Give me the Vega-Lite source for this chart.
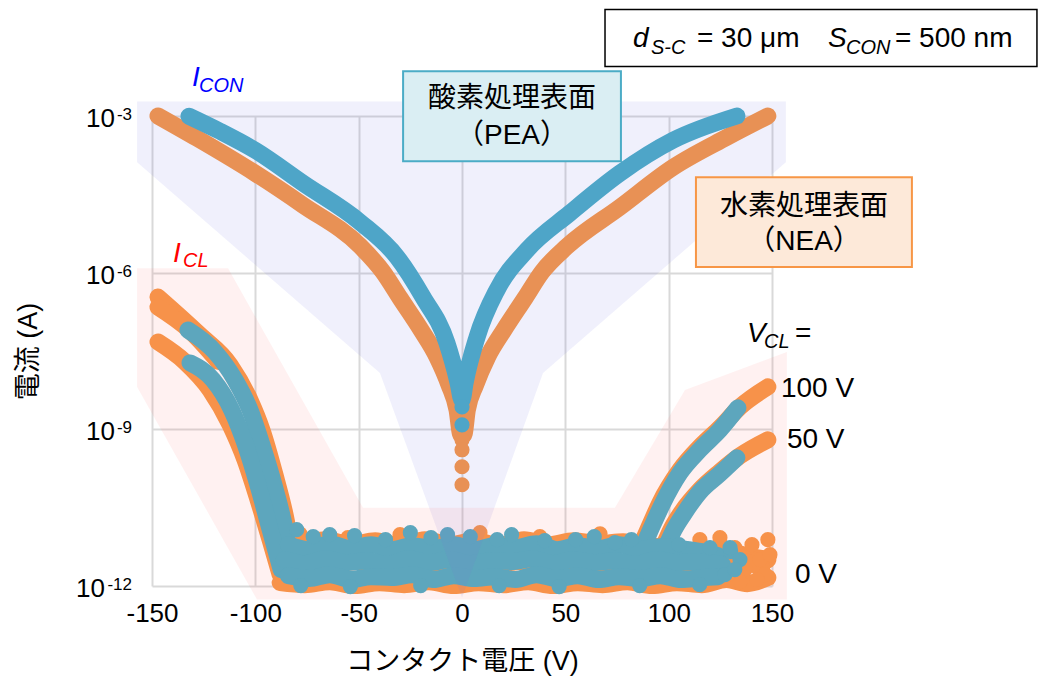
{
"$schema":"https://vega.github.io/schema/vega-lite/v6.json",
"width":620,"height":470,
"autosize":{"type":"none"},
"padding":{"left":152,"top":116,"right":271,"bottom":95},
"background":"white",
"config":{"view":{"stroke":null},"font":"Liberation Sans, Noto Sans CJK JP","text":{"font":"Liberation Sans, Noto Sans CJK JP","color":"#000000"}},
"datasets":{
"curves":[
{"c":"NC","s":"NEA","V":-147.1,"I":1.0e-3},{"c":"NC","s":"NEA","V":-128.2,"I":3.75e-4},{"c":"NC","s":"NEA","V":-100.1,"I":8.02e-5},{"c":"NC","s":"NEA","V":-76.9,"I":1.96e-5},{"c":"NC","s":"NEA","V":-49.3,"I":3.23e-6},{"c":"NC","s":"NEA","V":-38.2,"I":1.03e-6},{"c":"NC","s":"NEA","V":-30.0,"I":3.27e-7},{"c":"NC","s":"NEA","V":-19.8,"I":7.98e-8},{"c":"NC","s":"NEA","V":-12.1,"I":2.43e-8},{"c":"NC","s":"NEA","V":-6.3,"I":7.10e-9},{"c":"NC","s":"NEA","V":-2.4,"I":2.36e-9},{"c":"NC","s":"NEA","V":-0.5,"I":7.85e-10},{"c":"NC","s":"NEA","V":0.8,"I":7.85e-10},{"c":"NC","s":"NEA","V":2.6,"I":2.36e-9},{"c":"NC","s":"NEA","V":6.6,"I":7.10e-9},{"c":"NC","s":"NEA","V":12.4,"I":2.43e-8},{"c":"NC","s":"NEA","V":20.3,"I":7.98e-8},{"c":"NC","s":"NEA","V":30.5,"I":3.27e-7},{"c":"NC","s":"NEA","V":38.7,"I":1.03e-6},{"c":"NC","s":"NEA","V":51.0,"I":3.23e-6},{"c":"NC","s":"NEA","V":76.4,"I":1.79e-5},{"c":"NC","s":"NEA","V":102.1,"I":1.04e-4},{"c":"NC","s":"NEA","V":128.2,"I":3.92e-4},{"c":"NC","s":"NEA","V":148.0,"I":1.0e-3},
{"c":"N100L","s":"NEA","V":-147.1,"I":3.41e-7},{"c":"N100L","s":"NEA","V":-126.8,"I":6.41e-8},{"c":"N100L","s":"NEA","V":-112.2,"I":1.71e-8},{"c":"N100L","s":"NEA","V":-102.6,"I":3.66e-9},{"c":"N100L","s":"NEA","V":-96.8,"I":9.77e-10},{"c":"N100L","s":"NEA","V":-90.5,"I":1.35e-10},{"c":"N100L","s":"NEA","V":-85.6,"I":2.32e-11},{"c":"N100L","s":"NEA","V":-81.8,"I":3.98e-12},{"c":"N100L","s":"NEA","V":-79.8,"I":2.16e-12},
{"c":"N100Lb","s":"NEA","V":-147.1,"I":2.19e-7},{"c":"N100Lb","s":"NEA","V":-132.0,"I":7.98e-8},{"c":"N100Lb","s":"NEA","V":-118.0,"I":2.0e-8},
{"c":"N50L","s":"NEA","V":-147.1,"I":4.71e-8},{"c":"N50L","s":"NEA","V":-134.0,"I":1.95e-8},{"c":"N50L","s":"NEA","V":-121.9,"I":5.69e-9},{"c":"N50L","s":"NEA","V":-112.2,"I":1.22e-9},{"c":"N50L","s":"NEA","V":-105.0,"I":2.61e-10},{"c":"N50L","s":"NEA","V":-98.7,"I":4.49e-11},{"c":"N50L","s":"NEA","V":-92.9,"I":7.71e-12},{"c":"N50L","s":"NEA","V":-88.0,"I":1.65e-12},
{"c":"N100R","s":"NEA","V":86.1,"I":5.42e-12},{"c":"N100R","s":"NEA","V":91.0,"I":1.49e-11},{"c":"N100R","s":"NEA","V":95.8,"I":3.94e-11},{"c":"N100R","s":"NEA","V":105.5,"I":1.68e-10},{"c":"N100R","s":"NEA","V":115.1,"I":4.62e-10},{"c":"N100R","s":"NEA","V":124.8,"I":1.07e-9},{"c":"N100R","s":"NEA","V":134.5,"I":2.69e-9},{"c":"N100R","s":"NEA","V":148.0,"I":6.50e-9},
{"c":"N50R","s":"NEA","V":96.8,"I":4.97e-12},{"c":"N50R","s":"NEA","V":101.6,"I":1.31e-11},{"c":"N50R","s":"NEA","V":106.4,"I":2.65e-11},{"c":"N50R","s":"NEA","V":115.1,"I":6.93e-11},{"c":"N50R","s":"NEA","V":124.8,"I":1.54e-10},{"c":"N50R","s":"NEA","V":134.5,"I":3.11e-10},{"c":"N50R","s":"NEA","V":148.0,"I":6.29e-10},
{"c":"N0a","s":"NEA","V":-90,"I":7.38e-12},{"c":"N0a","s":"NEA","V":-78,"I":6.47e-12},{"c":"N0a","s":"NEA","V":-66,"I":7.71e-12},{"c":"N0a","s":"NEA","V":-54,"I":6.19e-12},{"c":"N0a","s":"NEA","V":-42,"I":7.38e-12},{"c":"N0a","s":"NEA","V":-30,"I":5.92e-12},{"c":"N0a","s":"NEA","V":-18,"I":7.71e-12},{"c":"N0a","s":"NEA","V":-6,"I":6.19e-12},{"c":"N0a","s":"NEA","V":6,"I":7.38e-12},{"c":"N0a","s":"NEA","V":18,"I":5.92e-12},{"c":"N0a","s":"NEA","V":30,"I":7.71e-12},{"c":"N0a","s":"NEA","V":42,"I":6.19e-12},{"c":"N0a","s":"NEA","V":54,"I":7.38e-12},{"c":"N0a","s":"NEA","V":66,"I":6.47e-12},{"c":"N0a","s":"NEA","V":78,"I":7.06e-12},{"c":"N0a","s":"NEA","V":90,"I":5.92e-12},{"c":"N0a","s":"NEA","V":102,"I":5.42e-12},{"c":"N0a","s":"NEA","V":114,"I":4.55e-12},{"c":"N0a","s":"NEA","V":126,"I":4.97e-12},{"c":"N0a","s":"NEA","V":136,"I":3.98e-12},{"c":"N0a","s":"NEA","V":148,"I":3.20e-12},
{"c":"N0b","s":"NEA","V":-88,"I":1.16e-12},{"c":"N0b","s":"NEA","V":-76,"I":1.06e-12},{"c":"N0b","s":"NEA","V":-64,"I":1.21e-12},{"c":"N0b","s":"NEA","V":-52,"I":1.02e-12},{"c":"N0b","s":"NEA","V":-40,"I":1.16e-12},{"c":"N0b","s":"NEA","V":-28,"I":1.06e-12},{"c":"N0b","s":"NEA","V":-16,"I":1.21e-12},{"c":"N0b","s":"NEA","V":-4,"I":1.02e-12},{"c":"N0b","s":"NEA","V":8,"I":1.16e-12},{"c":"N0b","s":"NEA","V":20,"I":1.06e-12},{"c":"N0b","s":"NEA","V":32,"I":1.21e-12},{"c":"N0b","s":"NEA","V":44,"I":1.02e-12},{"c":"N0b","s":"NEA","V":56,"I":1.16e-12},{"c":"N0b","s":"NEA","V":68,"I":1.06e-12},{"c":"N0b","s":"NEA","V":80,"I":1.21e-12},{"c":"N0b","s":"NEA","V":92,"I":1.02e-12},{"c":"N0b","s":"NEA","V":104,"I":1.16e-12},{"c":"N0b","s":"NEA","V":116,"I":1.06e-12},{"c":"N0b","s":"NEA","V":128,"I":1.33e-12},{"c":"N0b","s":"NEA","V":138,"I":1.11e-12},{"c":"N0b","s":"NEA","V":148,"I":1.45e-12},
{"c":"N0c","s":"NEA","V":-88,"I":2.80e-12},{"c":"N0c","s":"NEA","V":-70,"I":2.46e-12},{"c":"N0c","s":"NEA","V":-50,"I":2.93e-12},{"c":"N0c","s":"NEA","V":-30,"I":2.46e-12},{"c":"N0c","s":"NEA","V":-10,"I":2.80e-12},{"c":"N0c","s":"NEA","V":10,"I":2.46e-12},{"c":"N0c","s":"NEA","V":30,"I":2.93e-12},{"c":"N0c","s":"NEA","V":50,"I":2.46e-12},{"c":"N0c","s":"NEA","V":70,"I":2.80e-12},{"c":"N0c","s":"NEA","V":90,"I":2.46e-12},{"c":"N0c","s":"NEA","V":110,"I":2.80e-12},{"c":"N0c","s":"NEA","V":125,"I":2.35e-12},{"c":"N0c","s":"NEA","V":135,"I":2.93e-12},{"c":"N0c","s":"NEA","V":145,"I":2.25e-12},
{"c":"PC","s":"PEA","V":-132.1,"I":9.9e-4},{"c":"PC","s":"PEA","V":-117.1,"I":5.1e-4},{"c":"PC","s":"PEA","V":-100.1,"I":2.21e-4},{"c":"PC","s":"PEA","V":-76.9,"I":5.16e-5},{"c":"PC","s":"PEA","V":-49.3,"I":9.27e-6},{"c":"PC","s":"PEA","V":-31.4,"I":1.99e-6},{"c":"PC","s":"PEA","V":-18.9,"I":3.41e-7},{"c":"PC","s":"PEA","V":-7.3,"I":4.51e-8},{"c":"PC","s":"PEA","V":-1.9,"I":7.74e-9},{"c":"PC","s":"PEA","V":0,"I":3.66e-9},{"c":"PC","s":"PEA","V":1.5,"I":7.74e-9},{"c":"PC","s":"PEA","V":7.3,"I":5.88e-8},{"c":"PC","s":"PEA","V":16.9,"I":4.65e-7},{"c":"PC","s":"PEA","V":31.4,"I":2.70e-6},{"c":"PC","s":"PEA","V":52.2,"I":1.38e-5},{"c":"PC","s":"PEA","V":76.4,"I":8.02e-5},{"c":"PC","s":"PEA","V":102.1,"I":3.43e-4},{"c":"PC","s":"PEA","V":133.0,"I":1.0e-3},
{"c":"P100L","s":"PEA","V":-132.6,"I":7.98e-8},{"c":"P100L","s":"PEA","V":-119.5,"I":3.03e-8},{"c":"P100L","s":"PEA","V":-109.8,"I":8.83e-9},{"c":"P100L","s":"PEA","V":-102.6,"I":2.36e-9},{"c":"P100L","s":"PEA","V":-96.8,"I":5.06e-10},{"c":"P100L","s":"PEA","V":-91.0,"I":8.69e-11},{"c":"P100L","s":"PEA","V":-85.6,"I":1.20e-11},{"c":"P100L","s":"PEA","V":-82.2,"I":2.06e-12},
{"c":"P50L","s":"PEA","V":-131.6,"I":1.87e-8},{"c":"P50L","s":"PEA","V":-120.5,"I":8.83e-9},{"c":"P50L","s":"PEA","V":-111.5,"I":2.36e-9},{"c":"P50L","s":"PEA","V":-104.8,"I":5.06e-10},{"c":"P50L","s":"PEA","V":-98.8,"I":8.69e-11},{"c":"P50L","s":"PEA","V":-93.5,"I":1.49e-11},{"c":"P50L","s":"PEA","V":-87.5,"I":2.06e-12},
{"c":"P100R","s":"PEA","V":87.1,"I":4.97e-12},{"c":"P100R","s":"PEA","V":91.9,"I":1.37e-11},{"c":"P100R","s":"PEA","V":96.8,"I":3.61e-11},{"c":"P100R","s":"PEA","V":105.5,"I":1.47e-10},{"c":"P100R","s":"PEA","V":115.1,"I":4.06e-10},{"c":"P100R","s":"PEA","V":124.8,"I":9.77e-10},{"c":"P100R","s":"PEA","V":133.5,"I":2.58e-9},
{"c":"P50R","s":"PEA","V":97.7,"I":4.55e-12},{"c":"P50R","s":"PEA","V":102.6,"I":1.20e-11},{"c":"P50R","s":"PEA","V":107.4,"I":2.42e-11},{"c":"P50R","s":"PEA","V":115.1,"I":6.35e-11},{"c":"P50R","s":"PEA","V":124.8,"I":1.41e-10},{"c":"P50R","s":"PEA","V":133.0,"I":2.85e-10},
{"c":"P0a","s":"PEA","V":-84,"I":6.19e-12},{"c":"P0a","s":"PEA","V":-74,"I":4.97e-12},{"c":"P0a","s":"PEA","V":-64,"I":6.47e-12},{"c":"P0a","s":"PEA","V":-54,"I":5.19e-12},{"c":"P0a","s":"PEA","V":-44,"I":6.19e-12},{"c":"P0a","s":"PEA","V":-34,"I":4.97e-12},{"c":"P0a","s":"PEA","V":-24,"I":5.92e-12},{"c":"P0a","s":"PEA","V":-14,"I":5.19e-12},{"c":"P0a","s":"PEA","V":-4,"I":6.19e-12},{"c":"P0a","s":"PEA","V":6,"I":4.97e-12},{"c":"P0a","s":"PEA","V":16,"I":5.92e-12},{"c":"P0a","s":"PEA","V":26,"I":5.42e-12},{"c":"P0a","s":"PEA","V":36,"I":6.47e-12},{"c":"P0a","s":"PEA","V":46,"I":4.97e-12},{"c":"P0a","s":"PEA","V":56,"I":5.92e-12},{"c":"P0a","s":"PEA","V":66,"I":5.19e-12},{"c":"P0a","s":"PEA","V":76,"I":6.19e-12},{"c":"P0a","s":"PEA","V":86,"I":4.97e-12},{"c":"P0a","s":"PEA","V":96,"I":5.67e-12},{"c":"P0a","s":"PEA","V":106,"I":5.19e-12},{"c":"P0a","s":"PEA","V":116,"I":4.55e-12},{"c":"P0a","s":"PEA","V":124,"I":3.81e-12},
{"c":"P0b","s":"PEA","V":-86,"I":3.20e-12},{"c":"P0b","s":"PEA","V":-76,"I":2.68e-12},{"c":"P0b","s":"PEA","V":-66,"I":3.34e-12},{"c":"P0b","s":"PEA","V":-56,"I":2.80e-12},{"c":"P0b","s":"PEA","V":-46,"I":3.06e-12},{"c":"P0b","s":"PEA","V":-36,"I":2.57e-12},{"c":"P0b","s":"PEA","V":-26,"I":3.34e-12},{"c":"P0b","s":"PEA","V":-16,"I":2.80e-12},{"c":"P0b","s":"PEA","V":-6,"I":3.20e-12},{"c":"P0b","s":"PEA","V":4,"I":2.68e-12},{"c":"P0b","s":"PEA","V":14,"I":3.06e-12},{"c":"P0b","s":"PEA","V":24,"I":2.93e-12},{"c":"P0b","s":"PEA","V":34,"I":3.34e-12},{"c":"P0b","s":"PEA","V":44,"I":2.68e-12},{"c":"P0b","s":"PEA","V":54,"I":3.20e-12},{"c":"P0b","s":"PEA","V":64,"I":2.80e-12},{"c":"P0b","s":"PEA","V":74,"I":3.06e-12},{"c":"P0b","s":"PEA","V":84,"I":2.57e-12},{"c":"P0b","s":"PEA","V":94,"I":3.20e-12},{"c":"P0b","s":"PEA","V":104,"I":2.80e-12},{"c":"P0b","s":"PEA","V":114,"I":2.93e-12},{"c":"P0b","s":"PEA","V":126,"I":2.57e-12},
{"c":"P0c","s":"PEA","V":-84,"I":1.58e-12},{"c":"P0c","s":"PEA","V":-74,"I":1.39e-12},{"c":"P0c","s":"PEA","V":-64,"I":1.65e-12},{"c":"P0c","s":"PEA","V":-54,"I":1.33e-12},{"c":"P0c","s":"PEA","V":-44,"I":1.51e-12},{"c":"P0c","s":"PEA","V":-34,"I":1.45e-12},{"c":"P0c","s":"PEA","V":-24,"I":1.65e-12},{"c":"P0c","s":"PEA","V":-14,"I":1.33e-12},{"c":"P0c","s":"PEA","V":-4,"I":1.58e-12},{"c":"P0c","s":"PEA","V":6,"I":1.39e-12},{"c":"P0c","s":"PEA","V":16,"I":1.51e-12},{"c":"P0c","s":"PEA","V":26,"I":1.33e-12},{"c":"P0c","s":"PEA","V":36,"I":1.65e-12},{"c":"P0c","s":"PEA","V":46,"I":1.39e-12},{"c":"P0c","s":"PEA","V":56,"I":1.58e-12},{"c":"P0c","s":"PEA","V":66,"I":1.33e-12},{"c":"P0c","s":"PEA","V":76,"I":1.51e-12},{"c":"P0c","s":"PEA","V":86,"I":1.39e-12},{"c":"P0c","s":"PEA","V":96,"I":1.58e-12},{"c":"P0c","s":"PEA","V":106,"I":1.33e-12},{"c":"P0c","s":"PEA","V":116,"I":1.45e-12},{"c":"P0c","s":"PEA","V":124,"I":1.51e-12}
],
"dots":[
{"s":"NEA","V":0,"I":6.29e-10},{"s":"NEA","V":0,"I":4.06e-10},{"s":"NEA","V":0,"I":1.92e-10},{"s":"NEA","V":0,"I":8.69e-11},
{"s":"NEA","V":-78.4,"I":1.0e-11},{"s":"NEA","V":-55.2,"I":8.42e-12},{"s":"NEA","V":-30,"I":9.61e-12},{"s":"NEA","V":-17.9,"I":7.71e-12},{"s":"NEA","V":8.7,"I":1.05e-11},{"s":"NEA","V":37.7,"I":8.8e-12},{"s":"NEA","V":66.8,"I":1.0e-11},{"s":"NEA","V":100.6,"I":7.71e-12},{"s":"NEA","V":115.1,"I":7.71e-12},{"s":"NEA","V":124.8,"I":8.42e-12},
{"s":"NEA","V":122.4,"I":4.97e-12},{"s":"NEA","V":127.2,"I":3.2e-12},{"s":"NEA","V":132,"I":5.42e-12},{"s":"NEA","V":137,"I":2.06e-12},{"s":"NEA","V":140.3,"I":6.19e-12},{"s":"NEA","V":144.2,"I":3.2e-12},{"s":"NEA","V":146.6,"I":1.65e-12},{"s":"NEA","V":149,"I":3.98e-12},{"s":"NEA","V":142.7,"I":1.33e-12},{"s":"NEA","V":134.5,"I":1.21e-12},{"s":"NEA","V":128.7,"I":1.65e-12},{"s":"NEA","V":148,"I":7.71e-12},
{"s":"PEA","V":0,"I":2.69e-9},{"s":"PEA","V":0,"I":1.22e-9},
{"s":"PEA","V":-80,"I":1.2e-11},{"s":"PEA","V":-72,"I":8.8e-12},{"s":"PEA","V":-64,"I":9.61e-12},{"s":"PEA","V":-52,"I":9.2e-12},{"s":"PEA","V":-37,"I":7.71e-12},{"s":"PEA","V":-25,"I":1.05e-11},{"s":"PEA","V":-15,"I":8.42e-12},{"s":"PEA","V":-7,"I":9.61e-12},{"s":"PEA","V":4,"I":8.8e-12},{"s":"PEA","V":17,"I":7.71e-12},{"s":"PEA","V":24,"I":9.61e-12},{"s":"PEA","V":40,"I":7.38e-12},{"s":"PEA","V":55,"I":7.71e-12},{"s":"PEA","V":64,"I":8.8e-12},{"s":"PEA","V":74,"I":6.76e-12},{"s":"PEA","V":82,"I":7.71e-12},{"s":"PEA","V":105,"I":6.19e-12},{"s":"PEA","V":120,"I":5.42e-12},{"s":"PEA","V":130,"I":4.55e-12},
{"s":"PEA","V":-78,"I":1.02e-12},{"s":"PEA","V":-54,"I":9.74e-13},{"s":"PEA","V":-20,"I":1.02e-12},{"s":"PEA","V":18,"I":1.02e-12},{"s":"PEA","V":47,"I":9.74e-13},{"s":"PEA","V":86,"I":1.02e-12},{"s":"PEA","V":115,"I":1.06e-12},
{"s":"PEA","V":129.7,"I":5.42e-12},{"s":"PEA","V":134.5,"I":3.2e-12},{"s":"PEA","V":127.2,"I":1.65e-12},{"s":"PEA","V":132,"I":2.06e-12}
],
"ovBlue":[{"V":-157.2,"I":1.905e-3,"I2":1.3e-4},{"V":-39.7,"I":1.905e-3,"I2":1.2e-8},{"V":0,"I":1.905e-3,"I2":6.0e-13},{"V":39.2,"I":1.905e-3,"I2":1.2e-8},{"V":156.7,"I":1.905e-3,"I2":1.3e-4}],
"ovPink":[{"V":-157.2,"I":1.22e-6,"I2":6.5e-9},{"V":-113.2,"I":1.22e-6,"I2":5.31e-12},{"V":-99.2,"I":1.26e-7,"I2":5.49e-13},{"V":-47.9,"I":3.16e-11,"I2":5.49e-13},{"V":74.0,"I":3.16e-11,"I2":5.49e-13},{"V":107.9,"I":5.69e-9,"I2":5.49e-13},{"V":157.2,"I":3.03e-8,"I2":5.49e-13}],
"ticks":[{"V":-150,"I":1e-3,"e":"-3"},{"V":-150,"I":1e-6,"e":"-6"},{"V":-150,"I":1e-9,"e":"-9"},{"V":-150,"I":1e-12,"e":"-12"}],
"txtMain":[{"t":"= 30 μm","V":113.7,"I":2.06e-2},{"t":"= 500 nm","V":209.5,"I":2.06e-2},{"t":"=","V":161.1,"I":4.71e-8},{"t":"100 V","V":154.3,"I":4.18e-9},{"t":"50 V","V":157.2,"I":4.43e-10},{"t":"0 V","V":161.1,"I":1.16e-12}],
"txtItal":[{"t":"d","V":82.7,"I":2.06e-2},{"t":"S","V":177.1,"I":2.06e-2},{"t":"V","V":137.9,"I":4.71e-8}],
"txtSub":[{"t":"S-C","V":91.4,"I":1.51e-2},{"t":"CON","V":185.8,"I":1.51e-2},{"t":"CL","V":146.1,"I":3.61e-8}],
"txtI":[{"t":"I","g":"CON","V":-130.6,"I":3.7e-3},{"t":"I","g":"CL","V":-139.8,"I":1.6e-6}],
"txtISub":[{"t":"CON","g":"CON","V":-127.2,"I":2.84e-3},{"t":"CL","g":"CL","V":-135.0,"I":1.28e-6}],
"txtBox":[{"t":"酸素処理表面","V":24.2,"I":2.08e-3},{"t":"（PEA）","V":24.2,"I":4.09e-4},{"t":"水素処理表面","V":165.5,"I":1.79e-5},{"t":"（NEA）","V":165.5,"I":3.85e-6}]
},
"encoding":{
"x":{"field":"V","type":"quantitative","scale":{"domain":[-150,150],"nice":false,"zero":false},
 "axis":{"values":[-150,-100,-50,0,50,100,150],"labelExpr":"toString(datum.value)","title":"コンタクト電圧 (V)","grid":true,"gridColor":"#D9D9D9","gridWidth":2,"domain":false,"ticks":false,"tickSize":0,"labelFontSize":26,"labelColor":"#000000","labelFont":"Liberation Sans","labelPadding":14,"labelFlush":false,"labelOverlap":false,"labelBound":false,"titleFontSize":27,"titleFontWeight":"normal","titleColor":"#000000","titlePadding":22,"titleFont":"Liberation Sans, Noto Sans CJK JP"}},
"y":{"field":"I","type":"quantitative","scale":{"type":"log","domain":[1e-12,1e-3],"nice":false},
 "axis":{"values":[1e-12,1e-9,1e-6,1e-3],"title":"電流 (A)","grid":true,"gridColor":"#D9D9D9","gridWidth":2,"domain":false,"ticks":false,"tickSize":0,"labels":false,"titleFontSize":27,"titleFontWeight":"normal","titleColor":"#000000","titlePadding":110,"titleFont":"Liberation Sans, Noto Sans CJK JP"}}
},
"layer":[
{"data":{"name":"curves"},"transform":[{"filter":"datum.s == 'NEA'"}],"mark":{"type":"line","color":"#F79646","strokeWidth":17,"strokeCap":"round","strokeJoin":"round","interpolate":"monotone"},"encoding":{"detail":{"field":"c"}}},
{"data":{"name":"dots"},"transform":[{"filter":"datum.s == 'NEA'"}],"mark":{"type":"circle","color":"#F79646","size":230,"opacity":1}},
{"data":{"name":"curves"},"transform":[{"filter":"datum.s == 'PEA'"}],"mark":{"type":"line","color":"#4BACC6","strokeWidth":17,"strokeCap":"round","strokeJoin":"round","interpolate":"monotone"},"encoding":{"detail":{"field":"c"}}},
{"data":{"name":"dots"},"transform":[{"filter":"datum.s == 'PEA'"}],"mark":{"type":"circle","color":"#4BACC6","size":230,"opacity":1}},
{"data":{"name":"ovBlue"},"mark":{"type":"area","color":"#6969E1","opacity":0.1},"encoding":{"y2":{"field":"I2"}}},
{"data":{"name":"ovPink"},"mark":{"type":"area","color":"#FF7373","opacity":0.1},"encoding":{"y2":{"field":"I2"}}},
{"data":{"values":[{"V":-28.5,"V2":76.9,"I":7.16e-3,"I2":1.36e-4}]},"mark":{"type":"rect","fill":"#DAEEF3","stroke":"#4BACC6","strokeWidth":2},"encoding":{"x2":{"field":"V2"},"y2":{"field":"I2"}}},
{"data":{"values":[{"V":113.2,"V2":217.7,"I":6.73e-5,"I2":1.28e-6}]},"mark":{"type":"rect","fill":"#FDE9D9","stroke":"#F79646","strokeWidth":2},"encoding":{"x2":{"field":"V2"},"y2":{"field":"I2"}}},
{"data":{"values":[{"V":69.2,"V2":278.2,"I":0.1096,"I2":8.91e-3}]},"mark":{"type":"rect","fill":"#FFFFFF","stroke":"#000000","strokeWidth":1.5},"encoding":{"x2":{"field":"V2"},"y2":{"field":"I2"}}},
{"data":{"name":"txtBox"},"mark":{"type":"text","fontSize":28,"align":"center","baseline":"middle"},"encoding":{"text":{"field":"t"}}},
{"data":{"name":"txtMain"},"mark":{"type":"text","fontSize":28,"align":"left","baseline":"alphabetic"},"encoding":{"text":{"field":"t"}}},
{"data":{"name":"txtItal"},"mark":{"type":"text","fontSize":28,"fontStyle":"italic","align":"left","baseline":"alphabetic"},"encoding":{"text":{"field":"t"}}},
{"data":{"name":"txtSub"},"mark":{"type":"text","fontSize":20,"fontStyle":"italic","align":"left","baseline":"alphabetic"},"encoding":{"text":{"field":"t"}}},
{"data":{"name":"txtI"},"mark":{"type":"text","fontSize":28,"fontStyle":"italic","align":"left","baseline":"alphabetic"},"encoding":{"text":{"field":"t"},"color":{"field":"g","type":"nominal","scale":{"domain":["CON","CL"],"range":["#0000FF","#FF0000"]},"legend":null}}},
{"data":{"name":"txtISub"},"mark":{"type":"text","fontSize":20,"fontStyle":"italic","align":"left","baseline":"alphabetic"},"encoding":{"text":{"field":"t"},"color":{"field":"g","type":"nominal","scale":{"domain":["CON","CL"],"range":["#0000FF","#FF0000"]},"legend":null}}},
{"data":{"name":"ticks"},"transform":[{"filter":"datum.e != '-12'"}],"mark":{"type":"text","fontSize":26,"align":"right","baseline":"alphabetic","dx":-37,"dy":11,"font":"Liberation Sans"},"encoding":{"text":{"value":"10"}}},
{"data":{"name":"ticks"},"transform":[{"filter":"datum.e == '-12'"}],"mark":{"type":"text","fontSize":26,"align":"right","baseline":"alphabetic","dx":-47,"dy":11,"font":"Liberation Sans"},"encoding":{"text":{"value":"10"}}},
{"data":{"name":"ticks"},"mark":{"type":"text","fontSize":17,"align":"right","baseline":"alphabetic","dx":-20,"dy":4,"font":"Liberation Sans"},"encoding":{"text":{"field":"e"}}}
]
}
